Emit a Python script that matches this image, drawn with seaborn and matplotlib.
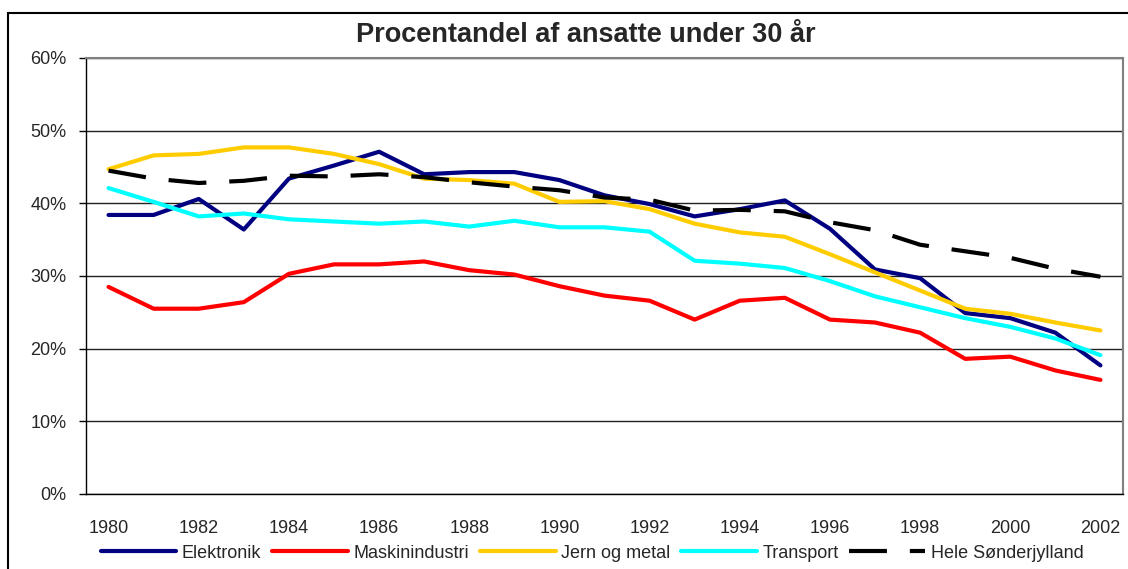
import numpy as np
import pandas as pd
import seaborn as sns
import matplotlib.pyplot as plt
from matplotlib.patches import Rectangle
from matplotlib.ticker import FixedLocator, FuncFormatter

years = list(range(1980, 2003))
elektronik = [38.4, 38.4, 40.6, 36.4, 43.4, 45.2, 47.1, 44.0, 44.3, 44.3, 43.2, 41.1,
              39.9, 38.2, 39.2, 40.4, 36.5, 30.9, 29.7, 24.9, 24.2, 22.2, 17.7]
maskinindustri = [28.5, 25.5, 25.5, 26.4, 30.3, 31.6, 31.6, 32.0, 30.8, 30.2, 28.6, 27.3,
                  26.6, 24.0, 26.6, 27.0, 24.0, 23.6, 22.2, 18.6, 18.9, 17.0, 15.7]
jern_og_metal = [44.7, 46.6, 46.8, 47.7, 47.7, 46.8, 45.4, 43.4, 43.2, 42.7, 40.2, 40.3,
                 39.2, 37.2, 36.0, 35.4, 33.0, 30.5, 28.0, 25.5, 24.8, 23.6, 22.5]
transport = [42.1, 40.2, 38.2, 38.6, 37.8, 37.5, 37.2, 37.5, 36.8, 37.6, 36.7, 36.7,
             36.1, 32.1, 31.7, 31.1, 29.3, 27.2, 25.7, 24.2, 23.0, 21.4, 19.1]
hele = [44.5, 43.4, 42.8, 43.1, 43.8, 43.7, 44.0, 43.6, 42.9, 42.3, 41.8, 40.8,
        40.5, 39.0, 39.1, 38.9, 37.4, 36.3, 34.3, 33.4, 32.5, 31.0, 29.9]

series = {"Elektronik": elektronik, "Maskinindustri": maskinindustri,
          "Jern og metal": jern_og_metal, "Transport": transport,
          "Hele Sønderjylland": hele}
colors = {"Elektronik": "#000080", "Maskinindustri": "#FF0000",
          "Jern og metal": "#FFCC00", "Transport": "#00FFFF",
          "Hele Sønderjylland": "#000000"}
dashes = {k: "" for k in series}
dashes["Hele Sønderjylland"] = (9.1, 5.5)

rows = []
for name, vals in series.items():
    for y, v in zip(years, vals):
        rows.append({"År": y, "Andel": v, "Serie": name})
df = pd.DataFrame(rows)

sns.set_style("white")
plt.rcParams['font.family'] = ['Liberation Sans', 'DejaVu Sans']

fig = plt.figure(figsize=(11.28, 5.69), dpi=100)
ax = fig.add_axes([86/1128, 1-494/569, (1123-86)/1128, (494-58)/569])

sns.lineplot(data=df, x="År", y="Andel", hue="Serie", style="Serie",
             palette=colors, dashes=dashes, linewidth=3, legend=False, ax=ax)
for ln in ax.lines:
    ln.set_dash_capstyle("butt")
    ln.set_solid_capstyle("round")

ax.set_xlim(1979.5, 2002.5)
ax.set_ylim(0, 60)
ax.set_yticks(range(0, 61, 10))
ax.yaxis.set_major_formatter(FuncFormatter(lambda v, p: f"{v:.0f}%"))
ax.yaxis.grid(True, color="#222222", linewidth=1)
ax.set_axisbelow(True)

ax.set_xticks(years[::2])
ax.xaxis.set_minor_locator(FixedLocator([y - 0.5 for y in years] + [2002.5]))
ax.tick_params(axis="x", which="major", length=0, pad=19, labelsize=13)
ax.tick_params(axis="x", which="minor", length=5, width=1, color="black", direction="out")
ax.tick_params(axis="y", length=5, width=1, color="black", direction="out", pad=9, labelsize=13, left=True)
ax.set_xlabel("")
ax.set_ylabel("")

for side in ["left", "bottom"]:
    ax.spines[side].set_color("black")
    ax.spines[side].set_linewidth(1)
for side in ["top", "right"]:
    ax.spines[side].set_color("#808080")
    ax.spines[side].set_linewidth(1.5)

fig.text(586/1128, 1-35/569, "Procentandel af ansatte under 30 år",
         ha="center", va="center", fontsize=19.5, fontweight="bold")

handles = ax.lines[:5]
fig.legend(handles, list(series.keys()), loc="center", bbox_to_anchor=(592/1128, 1-553/569),
           ncol=5, frameon=False, fontsize=13, handlelength=4.2, handletextpad=0.3,
           columnspacing=0.6, borderaxespad=0)

fig.add_artist(Rectangle((8/1128, -0.1), 1.2, 1.1 - 13/569, transform=fig.transFigure,
                         fill=False, edgecolor="black", linewidth=1.5))

fig.savefig("out.png", dpi=100)
